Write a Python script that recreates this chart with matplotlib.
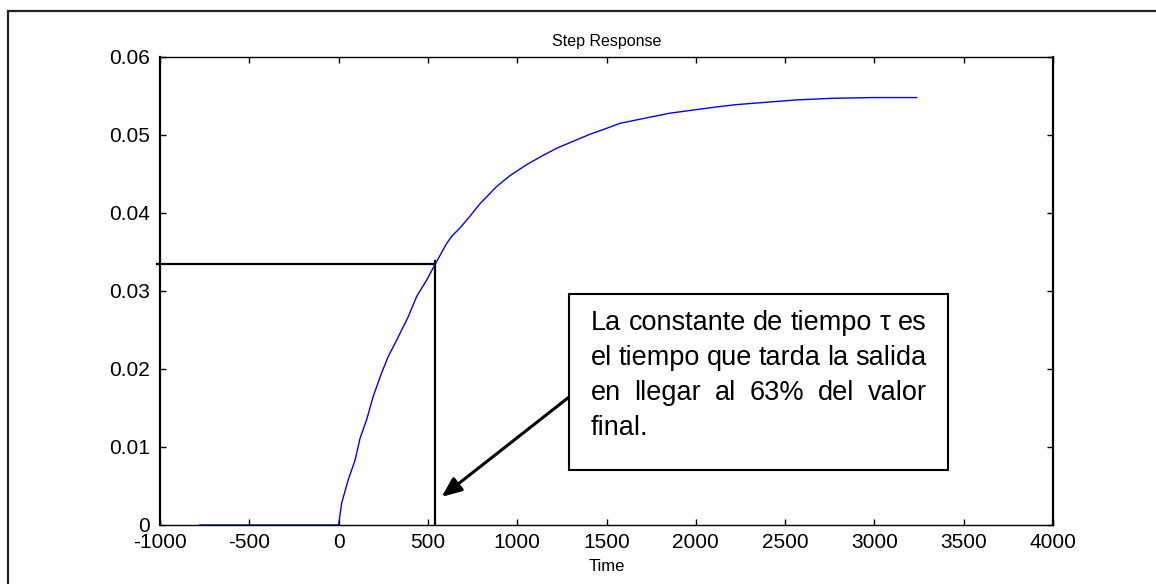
import matplotlib.pyplot as plt
from matplotlib.patches import Rectangle

plt.rcParams['font.family'] = ['Liberation Sans', 'DejaVu Sans']
plt.rcParams['axes.unicode_minus'] = False

# step response
time = [-776, 0, 17, 54, 92, 120, 157, 194, 241, 278, 325, 390, 437, 493, 540,
        605, 633, 680, 736, 792, 885, 960, 1053, 1146, 1221, 1314, 1408, 1482,
        1576, 1725, 1856, 1986, 2117, 2229, 2341, 2565, 2761, 2985, 3237]
resp = [0, 0, 0.0028, 0.0058, 0.0083, 0.0111, 0.0135, 0.0165, 0.0195, 0.0216,
        0.0237, 0.0267, 0.0293, 0.0314, 0.0334, 0.0361, 0.0370, 0.0381, 0.0396,
        0.0412, 0.0434, 0.0448, 0.0462, 0.0474, 0.0483, 0.0492, 0.0501, 0.0507,
        0.0515, 0.0522, 0.0528, 0.0532, 0.0536, 0.0539, 0.0541, 0.0545, 0.0547,
        0.0548, 0.0548]

tau_t = 540
tau_y = 0.0334

xticks = [-1000, -500, 0, 500, 1000, 1500, 2000, 2500, 3000, 3500, 4000]
yticks = [0, 0.01, 0.02, 0.03, 0.04, 0.05, 0.06]
ytick_labels = ['0', '0.01', '0.02', '0.03', '0.04', '0.05', '0.06']

note_lines = [
    ['La', 'constante', 'de', 'tiempo', 'τ', 'es'],
    ['el', 'tiempo', 'que', 'tarda', 'la', 'salida'],
    ['en', 'llegar', 'al', '63%', 'del', 'valor'],
    ['final.'],
]

W, H = 1156, 584
fig = plt.figure(figsize=(W / 100, H / 100), dpi=100)
ax = fig.add_axes([160 / W, 1 - 525 / H, 893 / W, 468 / H])

ax.plot(time, resp, color='#0000ff', lw=1.0)

# tau guide lines
ax.plot([-1016, tau_t], [tau_y, tau_y], color='black', lw=1.6, clip_on=False)
ax.plot([tau_t, tau_t], [0, tau_y + 0.0004], color='black', lw=1.6, clip_on=False)

ax.set_xlim(-1000, 4000)
ax.set_ylim(0, 0.06)
ax.set_xticks(xticks)
ax.set_yticks(yticks)
ax.set_yticklabels(ytick_labels)
ax.tick_params(direction='in', top=True, right=True, length=4, width=1,
               labelsize=15)
ax.tick_params(axis='y', pad=7)
ax.tick_params(axis='x', pad=6)
ax.set_title('Step Response', fontsize=11.5, pad=8)
ax.set_xlabel('Time', fontsize=12, labelpad=5)
for s in ['left', 'right']:
    ax.spines[s].set_linewidth(1.6)
for s in ['top', 'bottom']:
    ax.spines[s].set_linewidth(1.0)

# arrow to tau
ax.annotate('', xy=(577, 0.0036), xytext=(1290, 0.0164),
            arrowprops=dict(arrowstyle='-|>,head_length=1.2,head_width=0.5',
                            color='black', lw=2.2, shrinkA=0, shrinkB=0))

# note box
fig.patches.append(Rectangle((569 / W, 1 - 470 / H), (947.7 - 569) / W, (470 - 294.3) / H,
                             transform=fig.transFigure, facecolor='white',
                             edgecolor='black', lw=1.5, zorder=5))

fig.canvas.draw()
r = fig.canvas.get_renderer()
left, right = 590.7, 926.7
for i, words in enumerate(note_lines):
    yb = 1 - (330 + 35 * i) / H
    txts = [fig.text(0, yb, w, fontsize=19.5, va='baseline', zorder=6) for w in words]
    widths = [tt.get_window_extent(r).width for tt in txts]
    if i < len(note_lines) - 1 and len(words) > 1:
        gap = (right - left - sum(widths)) / (len(words) - 1)
    else:
        gap = 7
    x = left
    for tt, w in zip(txts, widths):
        tt.set_x(x / W)
        x += w + gap

# outer frame
fig.patches.append(Rectangle((8 / W, -0.02), 1.02, 1.02 - 11 / H,
                             transform=fig.transFigure, fill=False,
                             edgecolor='#222222', lw=1.6))

fig.savefig('out.png', dpi=100)
